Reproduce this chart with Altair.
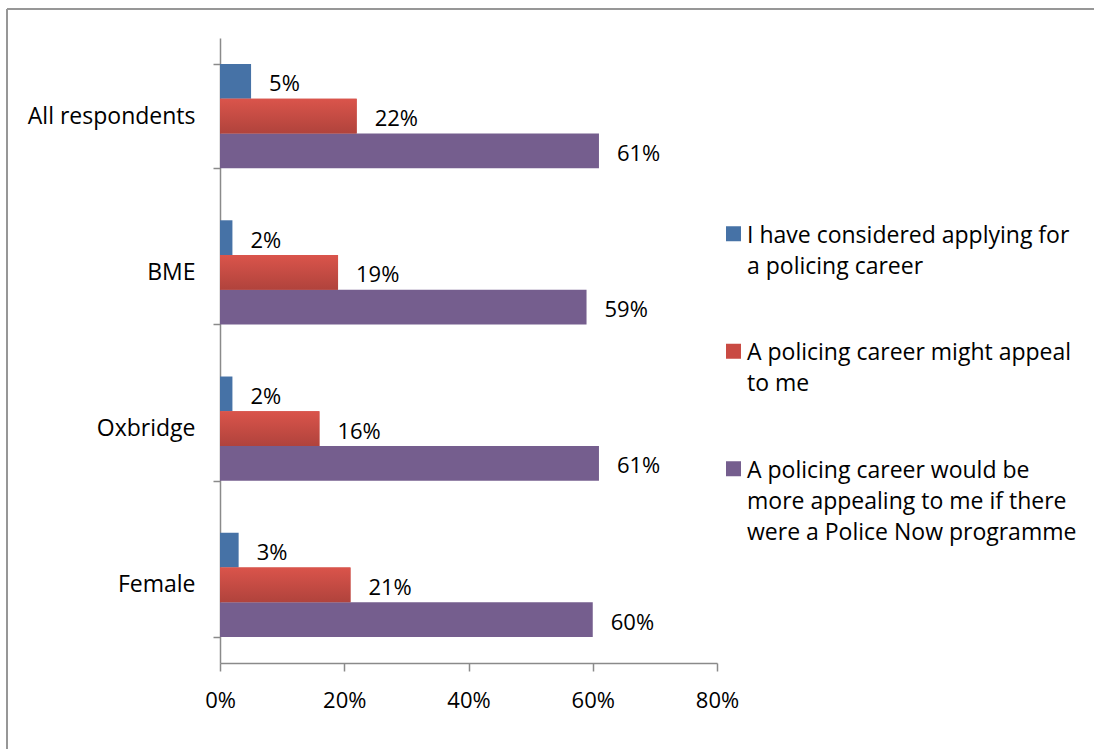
import altair as alt
import pandas as pd

categories = ["All respondents", "BME", "Oxbridge", "Female"]
series_names = [
    "I have considered applying for|a policing career",
    "A policing career might appeal|to me",
    "A policing career would be|more appealing to me if there|were a Police Now programme",
]
considered = [5, 2, 2, 3]
might_appeal = [22, 19, 16, 21]
police_now = [61, 59, 61, 60]
x_ticks = [0, 0.2, 0.4, 0.6, 0.8]
colors = ["#4672A6", "#C94A43", "#755E8E"]

rows = []
for vals, s in zip([considered, might_appeal, police_now], series_names):
    for c, v in zip(categories, vals):
        rows.append({"category": c, "series": s, "value": v / 100})
df = pd.DataFrame(rows)
legend_df = pd.DataFrame({"series": series_names})

FONT = "Open Sans"
FS = 22
FS_TXT = 23
AXIS_GREY = "#8a8a8a"

cat_scale = alt.Scale(domain=categories, paddingInner=0.333, paddingOuter=0.1667)
y_enc = alt.Y(
    "category:N",
    sort=categories,
    scale=cat_scale,
    axis=alt.Axis(
        title=None,
        tickBand="extent",
        labelFont=FONT,
        labelFontSize=FS_TXT,
        labelColor="#000000",
        labelPadding=18,
        tickSize=7,
        domainColor=AXIS_GREY,
        tickColor=AXIS_GREY,
        domainWidth=1.5,
        tickWidth=1.5,
    ),
)
x_enc = alt.X(
    "value:Q",
    scale=alt.Scale(domain=[0, 0.8], nice=False),
    axis=alt.Axis(
        title=None,
        values=x_ticks,
        format=".0%",
        grid=False,
        labelFlush=False,
        labelFont=FONT,
        labelFontSize=FS,
        labelColor="#000000",
        labelPadding=19,
        tickSize=8,
        domainColor=AXIS_GREY,
        tickColor=AXIS_GREY,
        domainWidth=1.5,
        tickWidth=1.5,
    ),
)
yoff = alt.YOffset("series:N", sort=series_names, scale=alt.Scale(paddingInner=0, paddingOuter=0))
color_scale = alt.Scale(domain=series_names, range=colors)

bars = alt.Chart(df).mark_bar().encode(
    x=x_enc,
    y=y_enc,
    yOffset=yoff,
    color=alt.Color("series:N", sort=series_names, scale=color_scale, legend=None),
)

red_grad = alt.Chart(df).transform_filter(
    alt.datum.series == series_names[1]
).mark_bar(
    color=alt.Gradient(
        gradient="linear",
        stops=[alt.GradientStop(color="#DA544B", offset=0), alt.GradientStop(color="#B0433C", offset=1)],
        x1=0, x2=0, y1=0, y2=1,
    )
).encode(x="value:Q", y=alt.Y("category:N", sort=categories), yOffset=yoff)

labels = alt.Chart(df).mark_text(
    align="left", baseline="middle", dx=18, dy=3, font=FONT, fontSize=FS, color="#000000"
).encode(
    x="value:Q",
    y=alt.Y("category:N", sort=categories),
    yOffset=yoff,
    text=alt.Text("value:Q", format=".0%"),
)

one = pd.DataFrame({"k": [0]})
border_left = alt.Chart(one).mark_rule(color="#979797", strokeWidth=2).encode(
    x=alt.value(-213), y=alt.value(-29), y2=alt.value(711)
)
border_top = alt.Chart(one).mark_rule(color="#979797", strokeWidth=2).encode(
    x=alt.value(-213), x2=alt.value(874), y=alt.value(-29)
)

main = alt.layer(bars, red_grad, labels)

leg_y = alt.Y(
    "series:N",
    sort=series_names,
    axis=None,
    scale=alt.Scale(domain=series_names, range=[146, 498.5], paddingInner=0, paddingOuter=0),
)
leg_sym = alt.Chart(legend_df).mark_square(size=225, opacity=1, yOffset=-9).encode(
    x=alt.value(513.5),
    y=leg_y,
    color=alt.Color("series:N", scale=color_scale, legend=None),
)
leg_txt = alt.Chart(legend_df).transform_calculate(
    lines="split(datum.series, '|')"
).mark_text(
    align="left", baseline="alphabetic", font=FONT, fontSize=FS_TXT, lineHeight=31, color="#000000"
).encode(
    x=alt.value(527),
    y=leg_y,
    text="lines:N",
)
legend = alt.layer(leg_sym, leg_txt)

chart = alt.layer(main, legend, border_left, border_top).resolve_scale(
    y="independent", color="shared"
).properties(
    width=497,
    height=625,
    background="#ffffff",
    padding={"left": 6, "top": 8, "right": 0, "bottom": 0},
).configure_view(stroke="transparent", strokeWidth=0)

chart.save("out.html", embed_options={"renderer": "svg", "actions": False})
